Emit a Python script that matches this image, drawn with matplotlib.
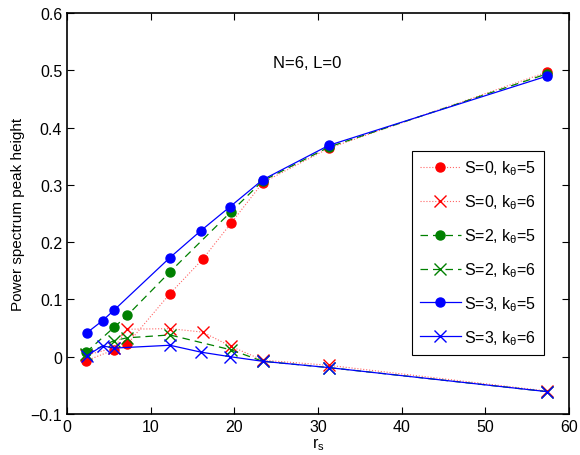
import matplotlib
matplotlib.use('Agg')
import matplotlib.pyplot as plt

plt.rcParams['font.family'] = ['Liberation Sans', 'DejaVu Sans']
plt.rcParams['mathtext.fontset'] = 'custom'
plt.rcParams['mathtext.rm'] = 'Liberation Sans'
plt.rcParams['mathtext.it'] = 'Liberation Sans'
plt.rcParams['mathtext.default'] = 'regular'

# --- data ---
rs_s0 = [2.3, 5.6, 7.2, 12.3, 16.2, 19.6, 23.4, 31.3, 57.4]
s0_k5 = [-0.007, 0.012, 0.022, 0.110, 0.170, 0.233, 0.304, 0.364, 0.497]
s0_k6 = [0.003, 0.015, 0.048, 0.049, 0.043, 0.018, -0.006, -0.015, -0.060]

rs_s2 = [2.3, 5.6, 7.2, 12.3, 19.6, 23.4, 31.3, 57.4]
s2_k5 = [0.008, 0.051, 0.072, 0.148, 0.253, 0.307, 0.366, 0.494]
s2_k6 = [0.005, 0.028, 0.033, 0.038, 0.012, -0.008, -0.019, -0.061]

rs_s3 = [2.4, 4.25, 5.6, 12.3, 16.0, 19.5, 23.4, 31.3, 57.4]
s3_k5 = [0.042, 0.063, 0.081, 0.173, 0.220, 0.262, 0.309, 0.369, 0.490]
s3_k6 = [0.002, 0.019, 0.015, 0.020, 0.008, 0.000, -0.008, -0.019, -0.061]

fig = plt.figure(figsize=(5.8, 4.56), dpi=100)
ax = fig.add_axes([67 / 580, 1 - 415 / 456, 502 / 580, 401 / 456])

pink = '#ff6666'
ax.plot(rs_s0, s0_k5, color=pink, ls=':', lw=0.8, marker='o', ms=6.5, mfc='red', mec='red', label=r'S=0, k$_\theta$=5')
ax.plot(rs_s0, s0_k6, color=pink, ls=':', lw=0.8, marker='x', ms=8, mew=1, mec='red', label=r'S=0, k$_\theta$=6')
ax.plot(rs_s2, s2_k5, color='green', ls='--', lw=0.9, dashes=(6, 4), marker='o', ms=6.5, label=r'S=2, k$_\theta$=5')
ax.plot(rs_s2, s2_k6, color='green', ls='--', lw=0.9, dashes=(6, 4), marker='x', ms=8, mew=1, label=r'S=2, k$_\theta$=6')
ax.plot(rs_s3, s3_k5, color='blue', ls='-', lw=0.9, marker='o', ms=6.5, label=r'S=3, k$_\theta$=5')
ax.plot(rs_s3, s3_k6, color='blue', ls='-', lw=0.9, marker='x', ms=8, mew=1, label=r'S=3, k$_\theta$=6')

ax.set_xlim(0, 60)
ax.set_ylim(-0.1, 0.6)
ax.set_xticks([0, 10, 20, 30, 40, 50, 60])
ax.set_yticks([-0.1, 0, 0.1, 0.2, 0.3, 0.4, 0.5, 0.6])
ax.set_yticklabels(['\u22120.1', '0', '0.1', '0.2', '0.3', '0.4', '0.5', '0.6'])
ax.tick_params(direction='in', top=True, right=True, length=5, width=0.8, labelsize=11.5)
for sp in ax.spines.values():
    sp.set_linewidth(1.2)

ax.set_xlabel(r'r$_s$', fontsize=11.5, labelpad=1)
ax.set_ylabel('Power spectrum peak height', fontsize=11)
ax.text(28.7, 0.514, 'N=6, L=0', fontsize=12, ha='center', va='center')

leg = ax.legend(loc='upper right', bbox_to_anchor=(0.967, 0.677), fontsize=11.5,
                fancybox=False, framealpha=1, edgecolor='black', labelspacing=0.95,
                handlelength=2.6, handletextpad=0.2, borderpad=0.5)
leg.get_frame().set_linewidth(0.8)

fig.savefig('out.png', dpi=100)
